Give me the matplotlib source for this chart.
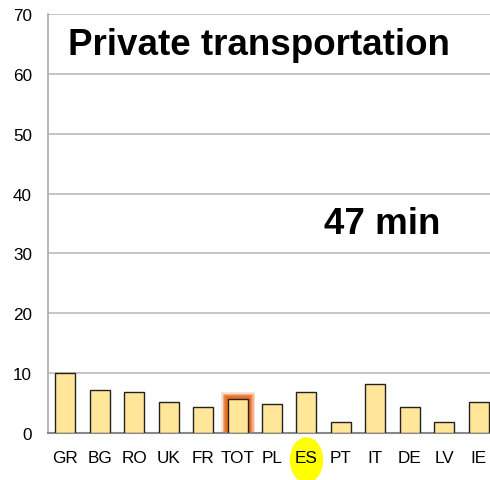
import matplotlib.pyplot as plt
import matplotlib.transforms as mtransforms
from matplotlib.patches import Ellipse

plt.rcParams['font.family'] = ['Liberation Sans', 'DejaVu Sans']

# Data
countries = ["GR", "BG", "RO", "UK", "FR", "TOT", "PL", "ES", "PT", "IT", "DE", "LV", "IE"]
minutes = [10.0, 7.2, 6.8, 5.2, 4.3, 5.7, 4.8, 6.8, 1.9, 8.2, 4.4, 1.8, 5.2]
yticks = [0, 10, 20, 30, 40, 50, 60, 70]
title = "Private transportation"
total_label = "47 min"
total_cat = "TOT"
spain_cat = "ES"

fig = plt.figure(figsize=(4.9, 4.81), dpi=100)
# axes runs a bit past the right edge, like the original
ax = fig.add_axes([48 / 490, (481 - 434) / 481, 448 / 490, 419 / 481])

x = list(range(len(countries)))
bar_color = "#FFE699"

# glow behind the total bar
ti = countries.index(total_cat)
for lw, a in [(10, 0.2), (8, 0.35), (6, 0.55), (4, 0.85)]:
    ax.bar(ti, minutes[ti], width=0.58, color="none", edgecolor="#E8681C",
           linewidth=lw, alpha=a, zorder=2)

ax.bar(x, minutes, width=0.58, color=bar_color, edgecolor="#222222",
       linewidth=1.0, zorder=3)

ax.set_xlim(-0.5, len(countries) - 0.5)
ax.set_ylim(0, 70)
ax.set_yticks(yticks)
ax.set_xticks(x)
ax.set_xticklabels(countries)
ax.tick_params(length=0, labelsize=12.3)
ax.tick_params(axis="x", pad=12)
ax.tick_params(axis="y", pad=11.5)
ax.grid(axis="y", color="#BBBBBB", linewidth=1.2, zorder=0)
ax.set_axisbelow(True)

for s in ["top", "right"]:
    ax.spines[s].set_visible(False)
ax.spines["left"].set_color("#AAAAAA")
ax.spines["bottom"].set_color("#888888")
ax.spines["left"].set_linewidth(1.2)
ax.spines["bottom"].set_linewidth(1.5)

# yellow ellipse behind ES label
si = countries.index(spain_cat)
trans = mtransforms.blended_transform_factory(ax.transData, fig.transFigure)
ell = Ellipse((si, (481 - 461) / 481), width=0.93, height=44 / 481,
              transform=trans, color="#FFFF00", clip_on=False, zorder=0)
fig.add_artist(ell)

ax.text(0.045, 0.928, title, transform=ax.transAxes, fontsize=26.5,
        fontweight="bold", va="center", ha="left")
ax.text(0.615, 0.5, total_label, transform=ax.transAxes, fontsize=26.5,
        fontweight="bold", va="center", ha="left")

fig.savefig("out.png", dpi=100)
